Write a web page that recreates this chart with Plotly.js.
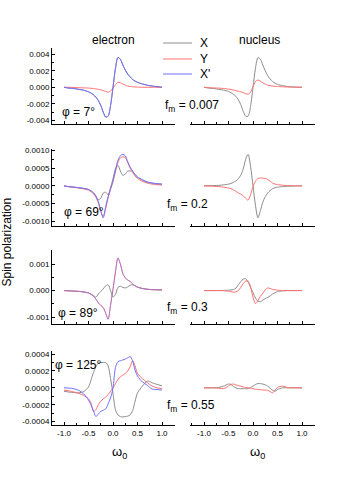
<!DOCTYPE html>
<html>
<head>
<meta charset="utf-8">
<script src="https://cdn.plot.ly/plotly-3.0.1.min.js"></script>
<style>
  html, body { margin: 0; padding: 0; background: #fff; }
  #chart { width: 349px; height: 501px; }
</style>
</head>
<body>
<div id="chart"></div>
<script>
// === DATA (spin polarization in units of 1e-4) ===
const OMEGA = [-1.0, -0.9, -0.8, -0.7, -0.6, -0.5, -0.45, -0.4, -0.35, -0.3, -0.25, -0.2, -0.15, -0.1, -0.05,
  0, 0.05, 0.1, 0.15, 0.2, 0.25, 0.3, 0.35, 0.4, 0.45, 0.5, 0.6, 0.7, 0.8, 0.9, 1.0];

// row 1: phi = 7 deg, fm = 0.007
const E1_X = [0, -1, -1.5, -2.5, -3.5, -5.5, -7, -9, -12, -16, -22, -30, -36, -35, -22,
  0, 23, 36, 34, 27, 21, 16, 12.5, 9.5, 7.5, 6, 4, 2.5, 1.5, 0.7, 0];
const E1_Y = [0, 0, -0.3, -0.5, -0.7, -1, -1.2, -1.5, -2, -2.5, -3, -4, -5, -6, -4.5,
  -1, 3, 6, 5.5, 4, 2.5, 1.5, 1, 0.6, 0.4, 0.2, 0, 0, 0, 0, 0];
const E1_XP = E1_X; // X' lies on top of X
const N1_X = [0, -1, -1.5, -2.5, -3.5, -5, -6.5, -8.5, -11, -15, -21, -29, -35, -35, -23,
  0, 23, 36, 34, 27, 20, 14, 10, 7, 5, 3.5, 2, 1, 0.5, 0.2, 0];
const N1_Y = [0, -0.5, -0.8, -1, -1.5, -2.2, -2.7, -3.3, -4, -4.8, -5.5, -6.5, -7.8, -8.4, -6,
  1, 7, 8.8, 7.5, 5.5, 3.8, 2.6, 2, 1.5, 1.2, 1, 0.6, 0.3, 0.2, 0, 0];

// row 2: phi = 69 deg, fm = 0.2
const E2_X = [0, -0.2, -0.35, -0.5, -0.7, -1.0, -1.4, -2.0, -3.0, -3.9, -3.5, -2.0, -1.8, -2.5, -0.5,
  2.0, 4.8, 5.8, 4.2, 3.0, 3.3, 4.2, 4.2, 4.0, 3.2, 2.5, 1.7, 1.1, 0.8, 0.6, 0.5];
const E2_Y = [0, -0.25, -0.4, -0.6, -0.85, -1.2, -1.6, -2.2, -3.2, -4.8, -7.2, -8.6, -6.4, -3.4, -1.0,
  1.2, 4.0, 6.6, 7.9, 8.2, 8.0, 6.6, 5.0, 3.8, 2.8, 2.1, 1.3, 0.8, 0.5, 0.35, 0.25];
const E2_XP = [0, -0.2, -0.35, -0.5, -0.7, -1.0, -1.4, -1.9, -2.8, -4.4, -7.0, -9.0, -5.8, -3.0, -0.8,
  1.5, 4.5, 7.2, 8.5, 8.9, 8.5, 6.8, 5.3, 4.2, 3.2, 2.5, 1.7, 1.1, 0.8, 0.6, 0.5];
const N2_X = [0, 0.05, 0.1, 0.15, 0.3, 0.5, 0.7, 1.0, 1.4, 2.0, 3.0, 4.8, 7.5, 8.9, 5.5,
  0, -5.5, -9.0, -7.0, -4.6, -3.0, -2.0, -1.3, -0.8, -0.5, -0.35, -0.2, -0.1, -0.05, 0, 0];
const N2_Y = [0, -0.05, -0.1, -0.2, -0.35, -0.6, -0.8, -1.1, -1.5, -2.0, -2.3, -2.8, -3.5, -4.0, -2.5,
  -0.2, 1.3, 2.1, 2.2, 2.2, 2.1, 1.8, 1.3, 0.8, 0.5, 0.4, 0.2, 0.1, 0.05, 0, 0];

// row 3: phi = 89 deg, fm = 0.3
const E3_X = [0, -0.1, -0.2, -0.3, -0.5, -0.9, -1.3, -1.8, -2.5, -1.3, -0.3, 0.6, 1.8, 2.2, 0.0,
  -2.4, -1.5, 1.2, 1.6, 1.2, 1.0, 1.4, 2.0, 2.2, 1.8, 1.3, 0.8, 0.5, 0.35, 0.3, 0.25];
const E3_Y = [0, -0.1, -0.2, -0.3, -0.5, -0.9, -1.4, -2.1, -3.2, -4.6, -5.6, -6.4, -8.5, -10.8, -5.5,
  0.5, 7.0, 12.3, 10.0, 6.5, 4.8, 4.0, 3.4, 2.5, 1.8, 1.3, 0.8, 0.5, 0.35, 0.3, 0.25];
const E3_XP = E3_Y; // X' lies on top of Y
const N3_X = [0, 0, 0, 0, 0.05, 0.15, 0.25, 0.4, 0.9, 2.2, 3.4, 4.3, 4.5, 3.2, 1.2,
  -0.8, -2.8, -4.0, -4.2, -3.6, -3.0, -2.6, -2.0, -1.3, -0.8, -0.4, -0.1, 0, 0, 0, 0];
const N3_Y = [0, 0, 0, 0, -0.05, -0.25, -0.4, -0.6, -0.5, 0, 1.2, 2.6, 3.6, 3.5, 1.5,
  -2.5, -4.9, -3.8, -2.2, -1.0, 0.3, 1.0, 0.8, 0.45, 0.3, 0.15, 0, 0, 0, 0, 0];

// row 4: phi = 125 deg, fm = 0.55
const E4_X = [-0.4, -0.5, -0.55, -0.6, -0.45, 0.1, 0.9, 1.8, 2.5, 2.9, 3.0, 3.0, 3.0, 2.6, 1.1,
  -0.7, -2.6, -3.2, -3.4, -3.45, -3.4, -3.35, -3.2, -2.7, -1.6, -0.6, 0.2, 0.8, 0.6, 0.4, 0.25];
const E4_Y = [-0.27, -0.35, -0.5, -0.65, -0.9, -1.3, -1.8, -2.8, -2.6, -2.0, -1.6, -1.3, -1.1, -0.8, -0.4,
  0, 0.5, 1.0, 1.3, 1.5, 1.7, 2.0, 2.5, 3.2, 2.6, 1.7, 1.1, 0.6, 0.2, 0, -0.1];
const E4_XP = [0, -0.03, -0.1, -0.3, -0.7, -1.45, -2.0, -2.7, -3.4, -3.1, -2.8, -2.65, -2.5, -1.9, -1.2,
  0, 2.4, 3.1, 3.2, 3.3, 3.4, 3.55, 3.7, 3.2, 2.1, 1.4, 0.7, 0.3, -0.15, -0.2, -0.27];
const N4_X = [0, 0, 0, 0.05, 0.2, 0.45, 0.4, 0.15, 0, -0.1, -0.1, -0.1, -0.1, -0.1, 0.05,
  0.2, 0.4, 0.5, 0.5, 0.45, 0.35, 0.2, -0.05, -0.3, -0.4, -0.2, 0, 0, 0, 0, 0];
const N4_Y = [0, 0, 0, -0.05, -0.1, 0.2, 0.4, 0.45, 0.35, 0.27, 0.2, 0.1, 0.05, 0, -0.05,
  -0.1, -0.15, -0.2, -0.22, -0.25, -0.27, -0.3, -0.45, -0.6, -0.3, 0.05, 0.2, 0.05, 0, 0, 0];

const UNIT = 1e-4;

// labels
const SERIES_NAMES = ["X", "Y", "X'"];
const PHI_LABELS = ["φ = 7°", "φ = 69°", "φ = 89°", "φ = 125°"];
const FM_LABELS = ["f<sub>m</sub> = 0.007", "f<sub>m</sub> = 0.2", "f<sub>m</sub> = 0.3", "f<sub>m</sub> = 0.55"];

const X_TICKS = [-1, -0.5, 0, 0.5, 1];
const X_TICK_TEXT = ["-1.0", "-0.5", "0.0", "0.5", "1.0"];
const Y_TICKS = [
  [0.004, 0.002, 0, -0.002, -0.004],
  [0.001, 0.0005, 0, -0.0005, -0.001],
  [0.001, 0, -0.001],
  [0.0004, 0.0002, 0, -0.0002, -0.0004]
];
const Y_TICK_TEXT = [
  ["0.004", "0.002", "0.000", "-0.002", "-0.004"],
  ["0.0010", "0.0005", "0.0000", "-0.0005", "-0.0010"],
  ["0.001", "0.000", "-0.001"],
  ["0.0004", "0.0002", "0.0000", "-0.0002", "-0.0004"]
];

// === LAYOUT HELPERS ===
const W = 349, H = 501;
const FONT = "Liberation Sans, Arial, sans-serif";
const px = x => x / W;
const py = y => 1 - y / H;

const COLORS = { "X": "#8c8c8c", "Y": "#ff7070", "X'": "#7070ff" };
const COL_X = [[52, 175], [190, 315]];
const ROW_Y = [[48, 124], [149, 226], [250, 324], [351, 425]];
const X_RANGE = [[-1.245, 1.265], [-1.286, 1.265]];
const Y_RANGE = [[-0.00445, 0.00476], [-0.00113, 0.00104], [-0.00126, 0.00153], [-0.00044, 0.000436]];
const Y_MINOR = [0.001, 0.00025, 0.0005, 0.0001];

const panels = [
  [[E1_X, E1_Y, E1_XP], [N1_X, N1_Y]],
  [[E2_X, E2_Y, E2_XP], [N2_X, N2_Y]],
  [[E3_X, E3_Y, E3_XP], [N3_X, N3_Y]],
  [[E4_X, E4_Y, E4_XP], [N4_X, N4_Y]]
];

const traces = [];
const layout = {
  width: W, height: H,
  margin: { l: 0, r: 0, t: 0, b: 0 },
  paper_bgcolor: "#fff", plot_bgcolor: "rgba(0,0,0,0)",
  showlegend: false,
  font: { family: FONT, color: "#000" },
  annotations: [], shapes: []
};

panels.forEach((row, r) => {
  row.forEach((series, c) => {
    const k = r * 2 + c + 1;
    const sfx = k > 1 ? k : "";
    series.forEach((vals, i) => {
      const name = SERIES_NAMES[i];
      traces.push({
        x: OMEGA,
        y: vals.map(v => v * UNIT),
        xaxis: "x" + sfx, yaxis: "y" + sfx,
        type: "scatter", mode: "lines", name: name,
        line: { color: COLORS[name], width: 1, shape: "spline", smoothing: 0.8 },
        opacity: (r === 2 && i === 2) ? 0.55 : 1,
        hoverinfo: "skip"
      });
    });

    layout["xaxis" + sfx] = {
      domain: [px(COL_X[c][0]), px(COL_X[c][1])],
      range: X_RANGE[c], anchor: "y" + sfx,
      showline: true, linecolor: "#000", linewidth: 1,
      ticks: "inside", ticklen: 3, tickcolor: "#000", tickwidth: 1,
      tickmode: "array", tickvals: X_TICKS, ticktext: X_TICK_TEXT,
      showticklabels: r === 3, tickfont: { size: 8, color: "#000" },
      minor: { ticks: "inside", ticklen: 2, tickcolor: "#000", tickmode: "linear", tick0: 0, dtick: 0.25, showgrid: false },
      showgrid: false, zeroline: false, fixedrange: true
    };
    const yax = {
      domain: [py(ROW_Y[r][1]), py(ROW_Y[r][0])],
      range: Y_RANGE[r], anchor: "x" + sfx,
      showgrid: false, zeroline: false, fixedrange: true
    };
    if (c === 0) {
      Object.assign(yax, {
        showline: true, linecolor: "#000", linewidth: 1,
        ticks: "inside", ticklen: 3, tickcolor: "#000", tickwidth: 1,
        tickmode: "array", tickvals: Y_TICKS[r], ticktext: Y_TICK_TEXT[r],
        tickfont: { size: 8, color: "#000" },
        minor: { ticks: "inside", ticklen: 2, tickcolor: "#000", tickmode: "linear", tick0: 0, dtick: Y_MINOR[r], showgrid: false }
      });
    } else {
      Object.assign(yax, { showline: false, showticklabels: false, ticks: "" });
    }
    layout["yaxis" + sfx] = yax;
  });
});

// === TEXT ===
function note(text, x, y, size, opts) {
  layout.annotations.push(Object.assign({
    text: text, xref: "paper", yref: "paper", x: px(x), y: py(y),
    xanchor: "left", yanchor: "middle", showarrow: false,
    font: { family: FONT, size: size, color: "#000" }
  }, opts || {}));
}

note("electron", 113, 40, 12, { xanchor: "center" });
note("nucleus", 259, 40, 12, { xanchor: "center" });
note("Spin polarization", 6.5, 242, 12, { xanchor: "center", textangle: -90 });
note("ω<sub>0</sub>", 110, 452, 13);
note("ω<sub>0</sub>", 248, 452, 13);

const PHI_POS = [[60, 112], [62, 212], [56, 313], [53, 365]];
const FM_POS = [[163, 106], [165, 205], [165, 308], [165, 406]];
PHI_LABELS.forEach((t, i) => note(t, PHI_POS[i][0], PHI_POS[i][1], 12));
FM_LABELS.forEach((t, i) => note(t, FM_POS[i][0], FM_POS[i][1], 12));

// legend key drawn by hand (tight row spacing)
const KEY_Y = [43, 59, 74];
SERIES_NAMES.forEach((name, i) => {
  layout.shapes.push({
    type: "line", xref: "paper", yref: "paper",
    x0: px(163), x1: px(192), y0: py(KEY_Y[i]), y1: py(KEY_Y[i]),
    line: { color: COLORS[name], width: 1 }
  });
  note(name, 198, KEY_Y[i], 12);
});

Plotly.newPlot("chart", traces, layout, { staticPlot: true, displayModeBar: false });
</script>
</body>
</html>
